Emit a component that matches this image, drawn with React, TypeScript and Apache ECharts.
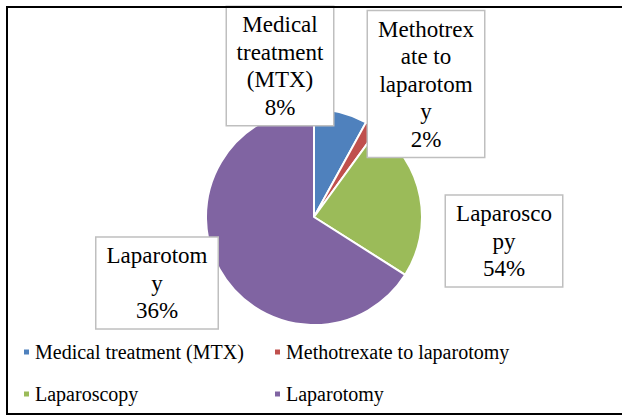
import React, { useEffect, useRef } from "react";
import * as echarts from "echarts";

const categories = [
  "Medical treatment (MTX)",
  "Methotrexate to laparotomy",
  "Laparoscopy",
  "Laparotomy",
];
// slice sizes as drawn in the picture
const sliceValues = [8, 2, 24, 66];
// label texts as printed on the chart
const labelNames = [
  "Medical\ntreatment\n(MTX)",
  "Methotrex\nate to\nlaparotom\ny",
  "Laparosco\npy",
  "Laparotom\ny",
];
const labelPercents = ["8%", "2%", "54%", "36%"];
const colors = ["#4F81BD", "#C0504D", "#9BBB59", "#8064A2"];

// layout of label boxes (centres) and widths
const labelCentres = [
  [280, 66],
  [426, 84],
  [504, 241],
  [157, 283],
];
const labelWidths = [100, 110, 110, 115];

const FONT = "Times New Roman, DejaVu Serif";

export default function App() {
  const ref = useRef<HTMLDivElement>(null);
  useEffect(() => {
    if (!ref.current) return;
    const chart = echarts.init(ref.current, undefined, { renderer: "svg" });
    chart.setOption({
      animation: false,
      backgroundColor: "#fff",
      color: colors,
      textStyle: { fontFamily: FONT },
      graphic: [
        {
          type: "rect",
          shape: { x: 7, y: 7, width: 640, height: 407 },
          style: { fill: "none", stroke: "#000", lineWidth: 2 },
          z: 100,
        },
      ],
      legend: [
        {
          data: [categories[0], categories[2]],
          orient: "vertical",
          left: 22,
          top: 342,
          padding: 0,
          itemGap: 22,
          itemWidth: 7,
          itemHeight: 7,
          icon: "rect",
          selectedMode: false,
          textStyle: { fontSize: 20, lineHeight: 20, fontFamily: FONT, color: "#000" },
        },
        {
          data: [categories[1], categories[3]],
          orient: "vertical",
          left: 273,
          top: 342,
          padding: 0,
          itemGap: 22,
          itemWidth: 7,
          itemHeight: 7,
          icon: "rect",
          selectedMode: false,
          textStyle: { fontSize: 20, lineHeight: 20, fontFamily: FONT, color: "#000" },
        },
      ],
      series: [
        {
          type: "pie",
          center: [314, 217],
          radius: 108,
          startAngle: 90,
          clockwise: true,
          itemStyle: { borderColor: "#fff", borderWidth: 2 },
          labelLine: { show: false },
          label: {
            show: true,
            position: "outside",
            color: "#000",
            fontFamily: FONT,
            fontSize: 23,
            lineHeight: 27.5,
            align: "center",
            backgroundColor: "#fff",
            borderColor: "#bfbfbf",
            borderWidth: 1.5,
            padding: [4, 3],
            formatter: (p: any) => labelNames[p.dataIndex] + "\n" + labelPercents[p.dataIndex],
          },
          labelLayout: (p: any) => ({
            x: labelCentres[p.dataIndex][0],
            y: labelCentres[p.dataIndex][1],
            align: "center",
            verticalAlign: "middle",
          }),
          data: categories.map((name, i) => ({
            name,
            value: sliceValues[i],
            label: { width: labelWidths[i] },
          })),
        },
      ],
    });
    return () => chart.dispose();
  }, []);
  return (
    <div
      ref={ref}
      style={{ position: "fixed", left: 0, top: 0, width: 622, height: 417 }}
    />
  );
}
